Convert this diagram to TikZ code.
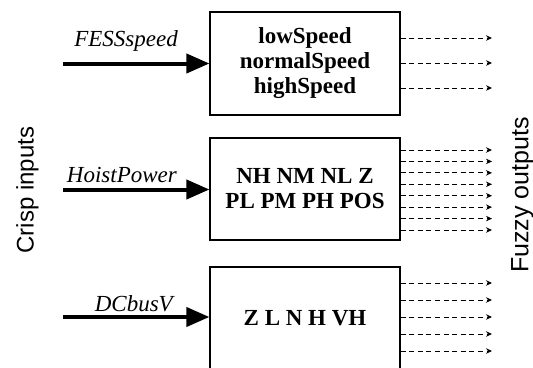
\documentclass[tikz,border=0pt]{standalone}
\usepackage{fontspec}
\setmainfont{Liberation Serif}
\setsansfont{Liberation Sans}
\usetikzlibrary{arrows.meta,positioning}

\tikzset{
  fuzzbox/.style={
    rectangle,
    draw=black,
    line width=1.2pt,
    minimum width=190pt,
    minimum height=102pt,
    align=center,
    font=\fontsize{23}{25}\selectfont\bfseries
  },
  inarrow/.style={
    line width=4pt,
    -{Triangle[length=23pt,width=19pt]}
  },
  outarrow/.style={
    line width=1pt,
    dash pattern=on 5pt off 3.6pt,
    -{Stealth[length=6pt,width=5.5pt]}
  },
  inlabel/.style={
    anchor=south east,
    inner sep=0pt,
    font=\fontsize{23}{25}\selectfont\itshape
  },
  sidelabel/.style={
    rotate=90,
    inner sep=0pt,
    font=\fontsize{24}{26}\selectfont\sffamily
  }
}

\begin{document}
\begin{tikzpicture}[x=1pt,y=-1pt]

\useasboundingbox (0,0) rectangle (533,367);

% fuzzifier blocks
\node[fuzzbox,minimum height=103pt] (speedbox) at (305,63.5)
  {lowSpeed\\ normalSpeed\\ highSpeed};
\node[fuzzbox] (powerbox) at (305,189)
  {NH NM NL Z\\ PL PM PH POS};
\node[fuzzbox] (busbox) at (305,318)
  {Z L N H VH};

% crisp inputs
\coordinate (speedin) at (63,63.5);
\coordinate (powerin) at (63,189.5);
\coordinate (busin) at (63,317);

\draw[inarrow] (speedin) -- (speedin -| speedbox.west);
\draw[inarrow] (powerin) -- (powerin -| powerbox.west);
\draw[inarrow] (busin) -- (busin -| busbox.west);

\node[inlabel] (speedlbl) at (178,52) {FESSspeed};
\node[inlabel] (powerlbl) at (177,183) {HoistPower};
\node[inlabel] (buslbl) at (173,312) {DCbusV};

% fuzzy outputs
\foreach \y in {38,63,88}
  \draw[outarrow] (speedbox.east |- 0,\y) -- (492,\y);
\foreach \i in {0,...,7}
  \draw[outarrow] (powerbox.east |- 0,{150+11.43*\i}) -- (492,{150+11.43*\i});
\foreach \y in {283,300,317,334,351}
  \draw[outarrow] (busbox.east |- 0,\y) -- (492,\y);

\node[sidelabel,anchor=north] (crisp) at (16,190) {Crisp inputs};
\node[sidelabel,anchor=north,font=\fontsize{25}{27}\selectfont\sffamily]
  (fuzzy) at (511,195) {Fuzzy outputs};

\end{tikzpicture}
\end{document}
